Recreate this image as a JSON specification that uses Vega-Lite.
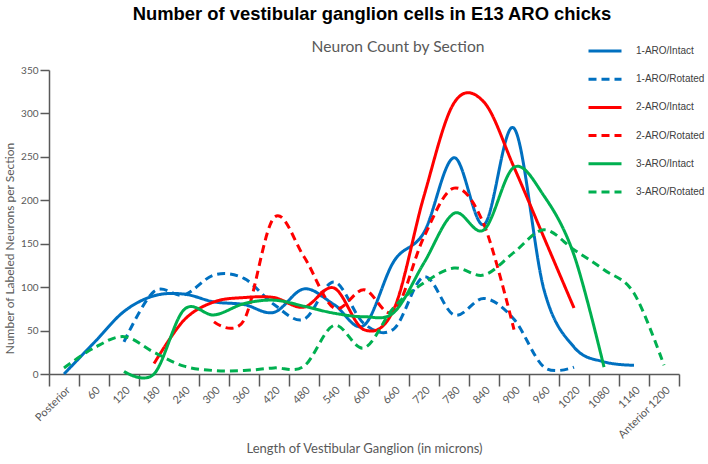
{
  "$schema": "https://vega.github.io/schema/vega-lite/v6.json",
  "background": "white",
  "padding": {"left": 3, "top": 4, "right": 0, "bottom": 0},
  "title": {"text": "Number of vestibular ganglion cells in E13 ARO chicks", "font": "Liberation Sans", "fontSize": 18.4, "fontWeight": "bold", "color": "#000000", "anchor": "middle", "frame": "group", "dx": 8, "offset": 10},
  "config": {"view": {"stroke": null}, "concat": {"spacing": 0}},
  "datasets": {
    "counts": [
      {"series": "1-ARO/Intact", "section": "Posterior", "count": 0},
      {"series": "1-ARO/Intact", "section": "60", "count": 36},
      {"series": "1-ARO/Intact", "section": "120", "count": 72},
      {"series": "1-ARO/Intact", "section": "180", "count": 90},
      {"series": "1-ARO/Intact", "section": "240", "count": 92},
      {"series": "1-ARO/Intact", "section": "300", "count": 83},
      {"series": "1-ARO/Intact", "section": "360", "count": 80},
      {"series": "1-ARO/Intact", "section": "420", "count": 71},
      {"series": "1-ARO/Intact", "section": "480", "count": 98},
      {"series": "1-ARO/Intact", "section": "540", "count": 80},
      {"series": "1-ARO/Intact", "section": "600", "count": 56},
      {"series": "1-ARO/Intact", "section": "660", "count": 130},
      {"series": "1-ARO/Intact", "section": "720", "count": 163},
      {"series": "1-ARO/Intact", "section": "780", "count": 249},
      {"series": "1-ARO/Intact", "section": "840", "count": 172},
      {"series": "1-ARO/Intact", "section": "900", "count": 283},
      {"series": "1-ARO/Intact", "section": "960", "count": 97},
      {"series": "1-ARO/Intact", "section": "1020", "count": 31},
      {"series": "1-ARO/Intact", "section": "1080", "count": 14},
      {"series": "1-ARO/Intact", "section": "1140", "count": 10},

      {"series": "1-ARO/Rotated", "section": "120", "count": 37},
      {"series": "1-ARO/Rotated", "section": "180", "count": 95},
      {"series": "1-ARO/Rotated", "section": "240", "count": 91},
      {"series": "1-ARO/Rotated", "section": "300", "count": 114},
      {"series": "1-ARO/Rotated", "section": "360", "count": 110},
      {"series": "1-ARO/Rotated", "section": "420", "count": 80},
      {"series": "1-ARO/Rotated", "section": "480", "count": 63},
      {"series": "1-ARO/Rotated", "section": "540", "count": 106},
      {"series": "1-ARO/Rotated", "section": "600", "count": 58},
      {"series": "1-ARO/Rotated", "section": "660", "count": 52},
      {"series": "1-ARO/Rotated", "section": "720", "count": 112},
      {"series": "1-ARO/Rotated", "section": "780", "count": 68},
      {"series": "1-ARO/Rotated", "section": "840", "count": 87},
      {"series": "1-ARO/Rotated", "section": "900", "count": 63},
      {"series": "1-ARO/Rotated", "section": "960", "count": 8},
      {"series": "1-ARO/Rotated", "section": "1020", "count": 8},

      {"series": "2-ARO/Intact", "section": "180", "count": 12},
      {"series": "2-ARO/Intact", "section": "240", "count": 62},
      {"series": "2-ARO/Intact", "section": "300", "count": 83},
      {"series": "2-ARO/Intact", "section": "360", "count": 88},
      {"series": "2-ARO/Intact", "section": "420", "count": 88},
      {"series": "2-ARO/Intact", "section": "480", "count": 77},
      {"series": "2-ARO/Intact", "section": "540", "count": 99},
      {"series": "2-ARO/Intact", "section": "600", "count": 51},
      {"series": "2-ARO/Intact", "section": "660", "count": 75},
      {"series": "2-ARO/Intact", "section": "720", "count": 205},
      {"series": "2-ARO/Intact", "section": "780", "count": 312},
      {"series": "2-ARO/Intact", "section": "840", "count": 313},
      {"series": "2-ARO/Intact", "section": "900", "count": 238},
      {"series": "2-ARO/Intact", "section": "960", "count": 157},
      {"series": "2-ARO/Intact", "section": "1020", "count": 76},

      {"series": "2-ARO/Rotated", "section": "300", "count": 60},
      {"series": "2-ARO/Rotated", "section": "360", "count": 62},
      {"series": "2-ARO/Rotated", "section": "420", "count": 180},
      {"series": "2-ARO/Rotated", "section": "480", "count": 135},
      {"series": "2-ARO/Rotated", "section": "540", "count": 76},
      {"series": "2-ARO/Rotated", "section": "600", "count": 97},
      {"series": "2-ARO/Rotated", "section": "660", "count": 72},
      {"series": "2-ARO/Rotated", "section": "720", "count": 158},
      {"series": "2-ARO/Rotated", "section": "780", "count": 214},
      {"series": "2-ARO/Rotated", "section": "840", "count": 172},
      {"series": "2-ARO/Rotated", "section": "900", "count": 51},

      {"series": "3-ARO/Intact", "section": "120", "count": 3},
      {"series": "3-ARO/Intact", "section": "180", "count": 0},
      {"series": "3-ARO/Intact", "section": "240", "count": 74},
      {"series": "3-ARO/Intact", "section": "300", "count": 68},
      {"series": "3-ARO/Intact", "section": "360", "count": 81},
      {"series": "3-ARO/Intact", "section": "420", "count": 85},
      {"series": "3-ARO/Intact", "section": "480", "count": 78},
      {"series": "3-ARO/Intact", "section": "540", "count": 70},
      {"series": "3-ARO/Intact", "section": "600", "count": 66},
      {"series": "3-ARO/Intact", "section": "660", "count": 71},
      {"series": "3-ARO/Intact", "section": "720", "count": 128},
      {"series": "3-ARO/Intact", "section": "780", "count": 185},
      {"series": "3-ARO/Intact", "section": "840", "count": 166},
      {"series": "3-ARO/Intact", "section": "900", "count": 238},
      {"series": "3-ARO/Intact", "section": "960", "count": 205},
      {"series": "3-ARO/Intact", "section": "1020", "count": 137},
      {"series": "3-ARO/Intact", "section": "1080", "count": 8},

      {"series": "3-ARO/Rotated", "section": "Posterior", "count": 7},
      {"series": "3-ARO/Rotated", "section": "60", "count": 30},
      {"series": "3-ARO/Rotated", "section": "120", "count": 43},
      {"series": "3-ARO/Rotated", "section": "180", "count": 25},
      {"series": "3-ARO/Rotated", "section": "240", "count": 9},
      {"series": "3-ARO/Rotated", "section": "300", "count": 4},
      {"series": "3-ARO/Rotated", "section": "360", "count": 4},
      {"series": "3-ARO/Rotated", "section": "420", "count": 7},
      {"series": "3-ARO/Rotated", "section": "480", "count": 9},
      {"series": "3-ARO/Rotated", "section": "540", "count": 56},
      {"series": "3-ARO/Rotated", "section": "600", "count": 30},
      {"series": "3-ARO/Rotated", "section": "660", "count": 77},
      {"series": "3-ARO/Rotated", "section": "720", "count": 105},
      {"series": "3-ARO/Rotated", "section": "780", "count": 122},
      {"series": "3-ARO/Rotated", "section": "840", "count": 114},
      {"series": "3-ARO/Rotated", "section": "900", "count": 140},
      {"series": "3-ARO/Rotated", "section": "960", "count": 166},
      {"series": "3-ARO/Rotated", "section": "1020", "count": 143},
      {"series": "3-ARO/Rotated", "section": "1080", "count": 120},
      {"series": "3-ARO/Rotated", "section": "1140", "count": 93},
      {"series": "3-ARO/Rotated", "section": "Anterior 1200", "count": 10}
    ]
  },
  "vconcat": [
    {
      "width": 630,
      "height": 304,
      "title": {"text": "Neuron Count by Section", "font": "Lato", "fontSize": 15.6, "fontWeight": "normal", "color": "#595959", "anchor": "middle", "frame": "group", "dx": 34, "offset": 9},
      "data": {"name": "counts"},
      "mark": {"type": "line", "interpolate": "cardinal", "strokeWidth": 3, "clip": false},
      "encoding": {
        "x": {
          "field": "section", "type": "ordinal", "bandPosition": 0.5,
          "scale": {"type": "band", "paddingInner": 0, "paddingOuter": 0,
            "domain": ["Posterior", "60", "120", "180", "240", "300", "360", "420", "480", "540", "600", "660", "720", "780", "840", "900", "960", "1020", "1080", "1140", "Anterior 1200"]},
          "axis": {
            "title": "Length  of Vestibular Ganglion (in microns)",
            "titleFont": "Lato", "titleFontSize": 13, "titleFontWeight": "normal", "titleColor": "#595959", "titlePadding": 2,
            "labelAngle": -45, "labelFont": "Lato", "labelFontSize": 11, "labelColor": "#595959", "labelPadding": -2,
            "tickBand": "extent", "tickSize": 12, "tickColor": "#595959", "tickWidth": 1.5,
            "domainColor": "#595959", "domainWidth": 1.5, "grid": false
          }
        },
        "y": {
          "field": "count", "type": "quantitative",
          "scale": {"domain": [0, 350], "nice": false, "zero": false},
          "axis": {
            "title": "Number  of Labeled Neurons per Section",
            "titleFont": "Lato", "titleFontSize": 12, "titleFontWeight": "normal", "titleColor": "#595959", "titlePadding": 4, "titleY": 178,
            "values": [0, 50, 100, 150, 200, 250, 300, 350],
            "labelFont": "Lato", "labelFontSize": 10, "labelColor": "#595959", "labelPadding": 2,
            "tickSize": 9, "tickColor": "#595959", "tickWidth": 1.5,
            "domainColor": "#595959", "domainWidth": 1.5, "grid": false
          }
        },
        "color": {
          "field": "series", "type": "nominal",
          "scale": {"domain": ["1-ARO/Intact", "1-ARO/Rotated", "2-ARO/Intact", "2-ARO/Rotated", "3-ARO/Intact", "3-ARO/Rotated"],
            "range": ["#0070C0", "#0070C0", "#FF0000", "#FF0000", "#00B050", "#00B050"]},
          "legend": {
            "title": null, "orient": "none", "legendX": 538, "legendY": -37, "padding": 0,
            "symbolType": "stroke", "symbolSize": 1089, "symbolStrokeWidth": 3,
            "labelFont": "Liberation Sans", "labelFontSize": 10, "labelColor": "#404040", "labelOffset": 13,
            "rowPadding": 4.2
          }
        },
        "strokeDash": {
          "field": "series", "type": "nominal",
          "scale": {"domain": ["1-ARO/Intact", "1-ARO/Rotated", "2-ARO/Intact", "2-ARO/Rotated", "3-ARO/Intact", "3-ARO/Rotated"],
            "range": [[1, 0], [8, 5], [1, 0], [8, 5], [1, 0], [8, 5]]},
          "legend": {
            "title": null, "orient": "none", "legendX": 538, "legendY": -37, "padding": 0,
            "symbolType": "stroke", "symbolSize": 1089, "symbolStrokeWidth": 3,
            "labelFont": "Liberation Sans", "labelFontSize": 10, "labelColor": "#404040", "labelOffset": 13,
            "rowPadding": 4.2
          }
        }
      }
    }
  ]
}
